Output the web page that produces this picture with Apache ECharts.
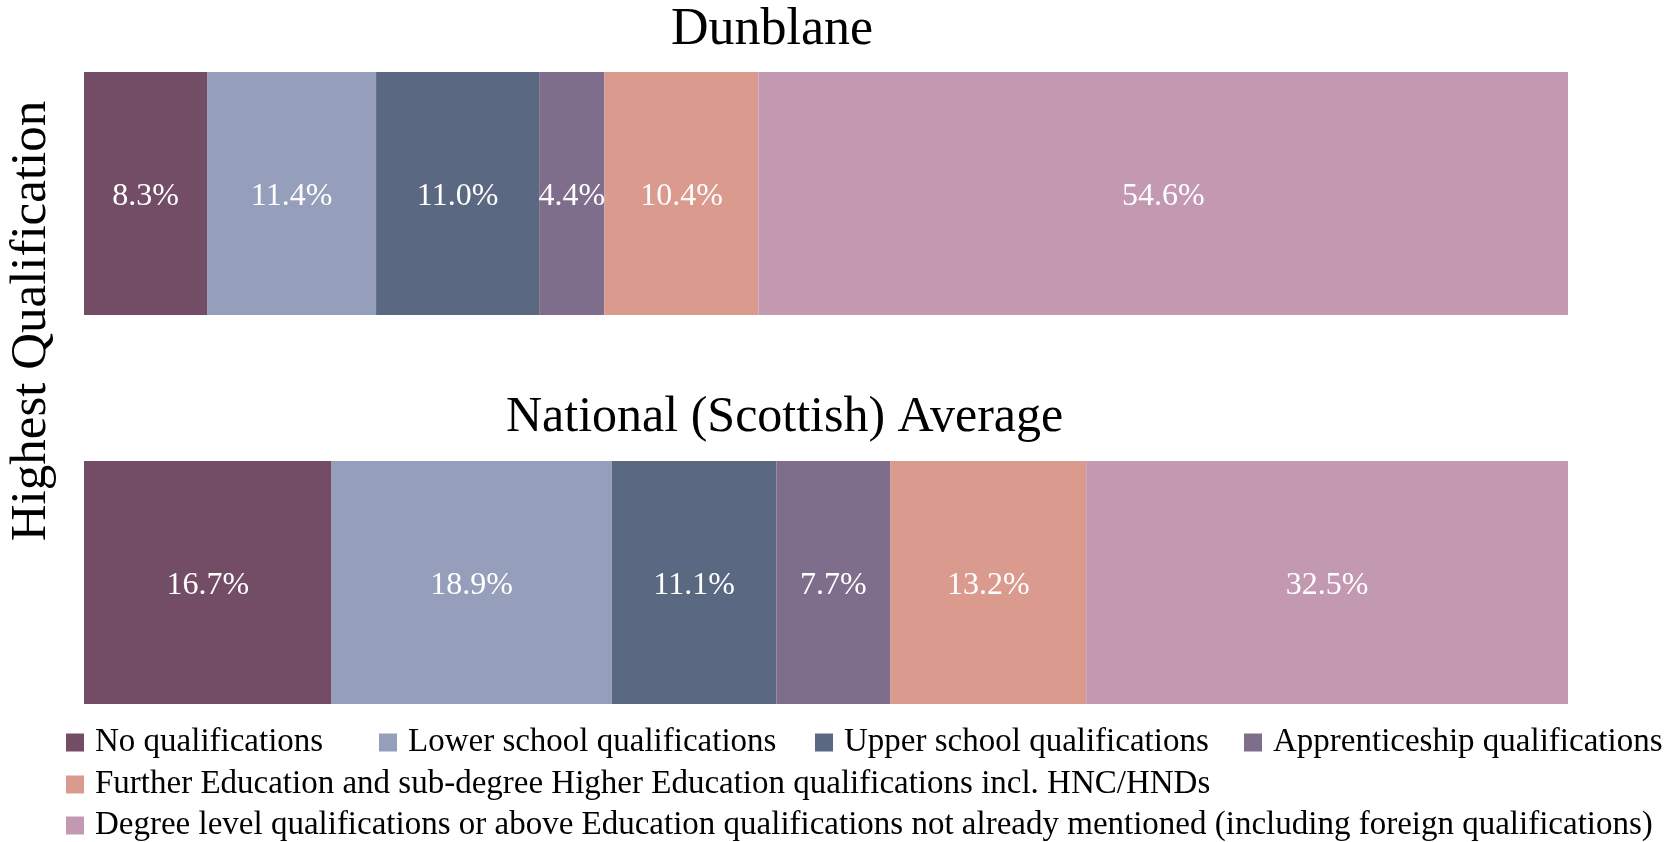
<!DOCTYPE html>
<html><head><meta charset="utf-8">
<script src="https://cdn.jsdelivr.net/npm/echarts@6/dist/echarts.min.js"></script>
<style>html,body{margin:0;padding:0;background:#fff}#c{width:1675px;height:842px}</style>
</head><body><div id="c"></div>
<script>
const categories = ["No qualifications","Lower school qualifications","Upper school qualifications","Apprenticeship qualifications","Further Education and sub-degree Higher Education qualifications incl. HNC/HNDs","Degree level qualifications or above Education qualifications not already mentioned (including foreign qualifications)"];
const panels = ["Dunblane","National (Scottish) Average"];
const dunblane = [8.3, 11.4, 11.0, 4.4, 10.4, 54.6];
const national = [16.7, 18.9, 11.1, 7.7, 13.2, 32.5];
const colors = ["#734C66","#959EBA","#5A6882","#7E6E8B","#DA9A8E","#C399B2"];
const yTitle = "Highest Qualification";

const FONT = "Liberation Serif";
const chart = echarts.init(document.getElementById('c'));
const panelData = [dunblane, national];
const grids = [
  {left:84, right:107, top:72, height:243},
  {left:84, right:107, top:461, height:243}
];
const series = [];
panelData.forEach((vals, gi) => {
  categories.forEach((cat, i) => {
    series.push({
      name: cat, type:'bar', stack:'s'+gi, xAxisIndex:gi, yAxisIndex:gi,
      barWidth:'100%', data:[vals[i]],
      itemStyle:{color:colors[i]},
      label:{show:true, position:'inside', offset:[0,3], color:'#fff', fontFamily:FONT, fontSize:32,
        formatter: p => p.value.toFixed(1) + '%'},
      emphasis:{disabled:true}
    });
  });
});
const legendPos = [
  {left:66, top:726}, {left:379, top:726}, {left:815, top:726}, {left:1244, top:726},
  {left:66, top:768}, {left:66, top:809}
];
const legends = categories.map((c,i)=>({
  data:[c], left:legendPos[i].left, top:legendPos[i].top, icon:'rect',
  itemWidth:18, itemHeight:18, itemGap:12, padding:0, selectedMode:false,
  textStyle:{fontFamily:FONT, fontSize:33, color:'#000', padding:[0,0,0,6]}
}));
chart.setOption({
  animation:false,
  title:[
    {text:panels[0], left:671, top:4, padding:0, textStyle:{fontFamily:FONT, fontSize:52, fontWeight:'normal', color:'#000'}},
    {text:panels[1], left:506, top:393, padding:0, textStyle:{fontFamily:FONT, fontSize:50, fontWeight:'normal', color:'#000'}}
  ],
  graphic:[{type:'text', x:32, y:321, rotation:Math.PI/2,
    style:{text:yTitle, font:'51px "'+FONT+'"', fill:'#000', align:'center', verticalAlign:'middle'}}],
  legend: legends,
  grid: grids,
  xAxis: grids.map((g,i)=>({type:'value', gridIndex:i, min:0, max:v=>v.max, show:false})),
  yAxis: grids.map((g,i)=>({type:'category', gridIndex:i, data:[panels[i]], show:false})),
  series: series
});
</script></body></html>
